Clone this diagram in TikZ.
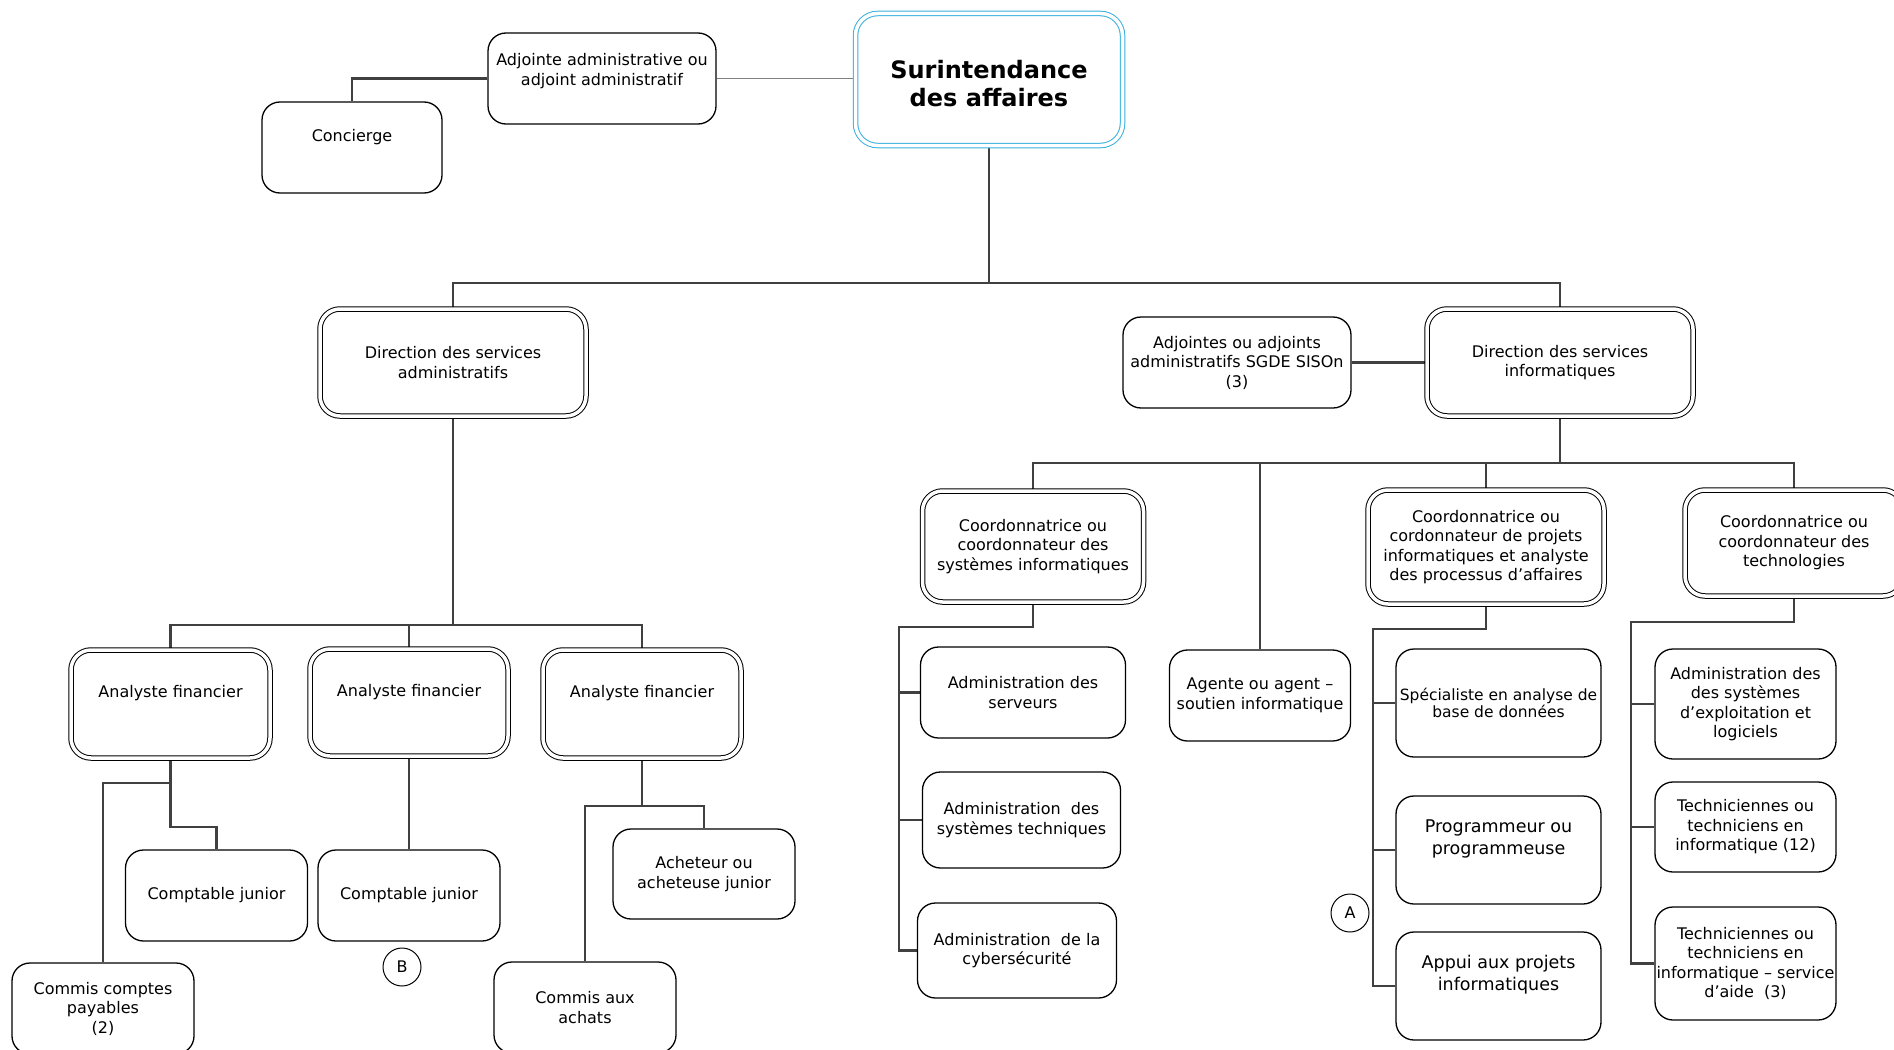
\documentclass[tikz,border=0pt]{standalone}
\usepackage{fontspec}
\setmainfont{DejaVu Sans}
\usetikzlibrary{backgrounds}
\definecolor{surblue}{RGB}{56,176,222}
\definecolor{connc}{RGB}{64,64,64}
\newcommand\fnorm{\fontsize{16}{19.5}\selectfont}
\newcommand\ftitle{\fontsize{24}{28}\selectfont\bfseries}
\newcommand\fbig{\fontsize{17.5}{22}\selectfont}
\newcommand\ftight{\fontsize{15.5}{16.5}\selectfont}
\begin{document}
\begin{tikzpicture}[x=1pt,y=-1pt,
  box/.style={draw=black, line width=1.3pt, rounded corners=18pt, fill=white, inner sep=0pt, align=center, font=\fnorm},
  dbox/.style={draw=black, line width=1pt, double=white, double distance=3.5pt, rounded corners=20pt, fill=white, inner sep=0pt, align=center, font=\fnorm},
  txt/.style={inner sep=0pt, align=center, font=\fnorm},
  conn/.style={draw=connc, line width=2.8pt},
  thin link/.style={draw=gray, line width=1.2pt},
  mark circ/.style={draw=black, line width=1pt, circle, minimum size=38pt, inner sep=0pt, font=\fnorm, fill=white}]
\useasboundingbox (0,0) rectangle (1894,1049);
\clip (0,0) rectangle (1894,1049);

% top
\node[dbox, draw=surblue, minimum width=267pt, minimum height=132pt, rounded corners=22pt] (sur) at (989,79.5) {};
\node[txt, font=\ftitle] (surt) at (989,84) {Surintendance\\des affaires};
\node[box, minimum width=228pt, minimum height=91pt] (adj) at (602,78.5) {};
\node[txt] (adjt) at (602,71) {Adjointe administrative ou\\adjoint administratif};
\node[box, minimum width=180pt, minimum height=91pt] (conc) at (352,147.5) {};
\node[txt] (conct) at (352,137) {Concierge};

% directions
\node[dbox, minimum width=266pt, minimum height=107pt] (dadm) at (453,362.5) {Direction des services\\administratifs};
\node[dbox, minimum width=266pt, minimum height=107pt] (dinf) at (1560,362.5) {Direction des services\\informatiques};
\node[box, minimum width=228pt, minimum height=91pt] (adjs) at (1237,362.5) {Adjointes ou adjoints\\administratifs SGDE SISOn\\(3)};

% admin branch
\node[dbox, minimum width=199pt, minimum height=108pt] (an1) at (170.5,704) {};
\node[txt] (an1t) at (170.5,693) {Analyste financier};
\node[dbox, minimum width=198pt, minimum height=107pt] (an2) at (409,702.5) {};
\node[txt] (an2t) at (409,692) {Analyste financier};
\node[dbox, minimum width=198pt, minimum height=108pt] (an3) at (642,704) {};
\node[txt] (an3t) at (642,693) {Analyste financier};
\node[box, minimum width=182pt, minimum height=91pt] (cj1) at (216.5,895.5) {Comptable junior};
\node[box, minimum width=182pt, minimum height=91pt] (cj2) at (409,895.5) {Comptable junior};
\node[box, minimum width=182pt, minimum height=91pt] (ccp) at (103,1008.5) {Commis comptes\\payables\\(2)};
\node[box, minimum width=182pt, minimum height=90pt] (ach) at (704,874) {Acheteur ou\\acheteuse junior};
\node[box, minimum width=182pt, minimum height=91pt] (cach) at (585,1007.5) {Commis aux\\achats};
\node[mark circ] (circB) at (402,967) {B};

% info branch
\node[dbox, minimum width=221pt, minimum height=111pt] (csys) at (1033,546.5) {Coordonnatrice ou\\coordonnateur des\\systèmes informatiques};
\node[dbox, minimum width=236pt, minimum height=114pt] (cproj) at (1486,547) {Coordonnatrice ou\\cordonnateur de projets\\informatiques et analyste\\des processus d’affaires};
\node[dbox, minimum width=218pt, minimum height=106pt] (ctech) at (1794,543) {Coordonnatrice ou\\coordonnateur des\\technologies};
\node[box, minimum width=205pt, minimum height=91pt] (aserv) at (1023,692.5) {Administration des\\serveurs};
\node[box, minimum width=198pt, minimum height=96pt] (asys) at (1021.5,820) {Administration\ \ des\\systèmes techniques};
\node[box, minimum width=199pt, minimum height=95pt] (cyber) at (1017,950.5) {Administration\ \ de la\\cybersécurité};
\node[box, minimum width=181pt, minimum height=91pt] (agent) at (1260,695.5) {Agente ou agent –\\soutien informatique};
\node[box, minimum width=205pt, minimum height=108pt, font=\ftight] (spec) at (1498.5,703) {Spécialiste en analyse de\\base de données};
\node[box, minimum width=205pt, minimum height=108pt] (prog) at (1498.5,850) {};
\node[txt, font=\fbig] (progt) at (1498.5,839) {Programmeur ou\\programmeuse};
\node[box, minimum width=205pt, minimum height=108pt] (appui) at (1498.5,986) {};
\node[txt, font=\fbig] (appuit) at (1498.5,975) {Appui aux projets\\informatiques};
\node[mark circ] (circA) at (1350,913) {A};
\node[box, minimum width=181pt, minimum height=110pt] (aexp) at (1745.5,704) {Administration des\\des systèmes\\d’exploitation et\\logiciels};
\node[box, minimum width=181pt, minimum height=90pt] (tech12) at (1745.5,827) {Techniciennes ou\\techniciens en\\informatique (12)};
\node[box, minimum width=181pt, minimum height=113pt] (aide) at (1745.5,963.5) {Techniciennes ou\\techniciens en\\informatique – service\\d’aide\ \ (3)};

% connectors
\coordinate (j1) at (989,283);
\coordinate (j2) at (453,625);
\coordinate (j3) at (170.5,783);
\coordinate (j4) at (170.5,827);
\coordinate (j5) at (642,806);
\coordinate (j6) at (1560,463);
\coordinate (sysbus) at (899,627);
\coordinate (projbus) at (1373,629);
\coordinate (techbus) at (1631,622);
\begin{pgfonlayer}{background}
\fill[white] (0,0) rectangle (1894,1049);
\draw[conn] (sur.south) -- (j1);
\draw[conn] (dadm.north) |- (j1) -| (dinf.north);
\draw[conn] (adj.west) -| (conc.north);
\draw[thin link] (adj.east) -- (sur.west |- adj.east);
\draw[conn] (adjs.east) -- (dinf.west |- adjs.east);
\draw[conn] (dadm.south) -- (j2);
\draw[conn] (an1.north) |- (j2) -| (an3.north);
\draw[conn] (an2.north) -- (an2.north |- j2);
\draw[conn] (an1.south) -- (j3) -| (ccp.north);
\draw[conn] (j3) -- (j4) -| (cj1.north);
\draw[conn] (an2.south) -- (cj2.north);
\draw[conn] (an3.south) -- (j5);
\draw[conn] (cach.north) |- (j5) -| (ach.north);
\draw[conn] (dinf.south) -- (j6);
\draw[conn] (csys.north) |- (j6) -| (ctech.north);
\draw[conn] (agent.north) -- (agent.north |- j6);
\draw[conn] (cproj.north) -- (cproj.north |- j6);
\draw[conn] (csys.south) |- (sysbus) |- (cyber.west);
\draw[conn] (aserv.west) -- (aserv.west -| sysbus);
\draw[conn] (asys.west) -- (asys.west -| sysbus);
\draw[conn] (cproj.south) |- (projbus) |- (appui.west);
\draw[conn] (spec.west) -- (spec.west -| projbus);
\draw[conn] (prog.west) -- (prog.west -| projbus);
\draw[conn] (ctech.south) |- (techbus) |- (aide.west);
\draw[conn] (aexp.west) -- (aexp.west -| techbus);
\draw[conn] (tech12.west) -- (tech12.west -| techbus);
\end{pgfonlayer}
\end{tikzpicture}
\end{document}
